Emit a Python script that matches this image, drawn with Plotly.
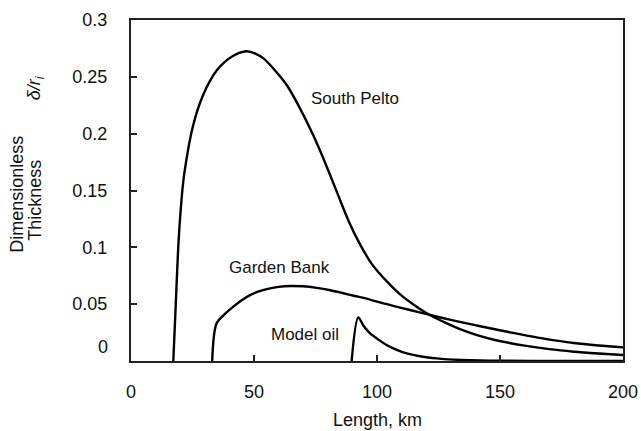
import plotly.graph_objects as go

# South Pelto
sp_x = [17.2, 18.2, 19.2, 20.2, 21.3, 22.6, 24.0, 25.3, 27.0, 29.4, 32.0, 34.8, 38.0, 41.6, 44.0, 47.0, 51.0, 54.0,
        59.0, 63.3, 68.7, 74.0, 79.0, 84.0, 88.5, 93.0, 98.0, 104.0, 110.0, 117.0, 121.5, 128.0, 134.0, 141.0,
        148.0, 160.0, 170.0, 180.0, 190.0, 200.0]
sp_y = [0.0, 0.05, 0.1, 0.133, 0.159, 0.178, 0.195, 0.2076, 0.2205, 0.2345, 0.246, 0.2555, 0.263, 0.2685, 0.271,
        0.2725, 0.270, 0.266, 0.2545, 0.2428, 0.2223, 0.199, 0.174, 0.147, 0.123, 0.103, 0.085, 0.070, 0.0575,
        0.0465, 0.0405, 0.0335, 0.0278, 0.0225, 0.0185, 0.0135, 0.0104, 0.0082, 0.0066, 0.0053]

# Garden Bank
gb_x = [33.0, 34.8, 38.0, 41.6, 45.0, 48.4, 52.0, 55.2, 60.0, 64.6, 70.0, 75.5, 81.0, 86.3, 91.0, 95.8, 100.0,
        106.6, 113.4, 121.5, 130.0, 138.5, 146.0, 153.0, 160.0, 166.0, 173.0, 180.0, 190.0, 200.0]
gb_y = [0.0, 0.0332, 0.041, 0.0478, 0.0535, 0.058, 0.0612, 0.0633, 0.0652, 0.066, 0.0657, 0.0643, 0.0622, 0.0596,
        0.0572, 0.0548, 0.0522, 0.0485, 0.0449, 0.0405, 0.0362, 0.0322, 0.0288, 0.0257, 0.0228, 0.0203, 0.0179,
        0.0158, 0.0137, 0.012]

# Model oil
mo_x = [89.7, 92.4, 94.5, 97.2, 100.5, 103.9, 108.0, 112.1, 118.0, 124.3, 131.0, 138.0, 150.0, 170.0, 200.0]
mo_y = [0.0, 0.0384, 0.031, 0.0243, 0.019, 0.0141, 0.0098, 0.0067, 0.0040, 0.0023, 0.0012, 0.0006, 0.0002, 0.0001, 0.0]

x_ticks = [0, 50, 100, 150, 200]
y_ticks = [0.05, 0.1, 0.15, 0.2, 0.25, 0.3]
y_tick_text = ["0.05", "0.1", "0.15", "0.2", "0.25", "0.3"]

FONT = "Liberation Sans, Arial, sans-serif"
TXT = "#111"

fig = go.Figure()
for xs, ys in [(sp_x, sp_y), (gb_x, gb_y), (mo_x, mo_y)]:
    fig.add_trace(go.Scatter(x=xs, y=ys, mode="lines",
                             line=dict(color="black", width=2.4, shape="spline", smoothing=0.9),
                             showlegend=False, hoverinfo="skip"))

axis_common = dict(showgrid=False, zeroline=False, showline=True, linecolor="#222", linewidth=2,
                   mirror=True, ticks="inside", ticklen=6, tickwidth=1.5, tickcolor="#222",
                   automargin=False, tickfont=dict(family=FONT, size=18, color=TXT))

fig.update_xaxes(range=[0, 200], tickvals=x_ticks, ticklabelstandoff=13, **axis_common)
fig.update_yaxes(range=[0, 0.3], tickvals=y_ticks, ticktext=y_tick_text, ticklabelstandoff=18, **axis_common)

fig.update_layout(
    width=641, height=431,
    margin=dict(l=131, r=18, t=20, b=70),
    plot_bgcolor="white", paper_bgcolor="white",
    font=dict(family=FONT, size=18, color=TXT),
)

def ann(text, x, y, xref="paper", yref="paper", angle=0, size=18, xanchor="center", yanchor="middle"):
    fig.add_annotation(text=text, x=x, y=y, xref=xref, yref=yref, textangle=angle, showarrow=False,
                       font=dict(family=FONT, size=size, color=TXT), xanchor=xanchor, yanchor=yanchor)

# curve labels (placed in data coordinates)
ann("South Pelto", 72.5, 0.231, "x", "y", size=17, xanchor="left")
ann("Garden Bank", 39.0, 0.0826, "x", "y", size=17, xanchor="left")
ann("Model oil", 56.2, 0.0235, "x", "y", size=17, xanchor="left")

# axis titles
ann("Length, km", 0.5, -0.173)
ann("Dimensionless", -0.232, 0.49, angle=-90)
ann("Thickness", -0.195, 0.47, angle=-90)
ann("<i>δ/r<sub>i</sub></i>", -0.195, 0.80, angle=-90)
# y zero tick label (offset upward as in the original)
ann("0", -0.043, 0.04, xanchor="right")

fig.write_html("out.html")
